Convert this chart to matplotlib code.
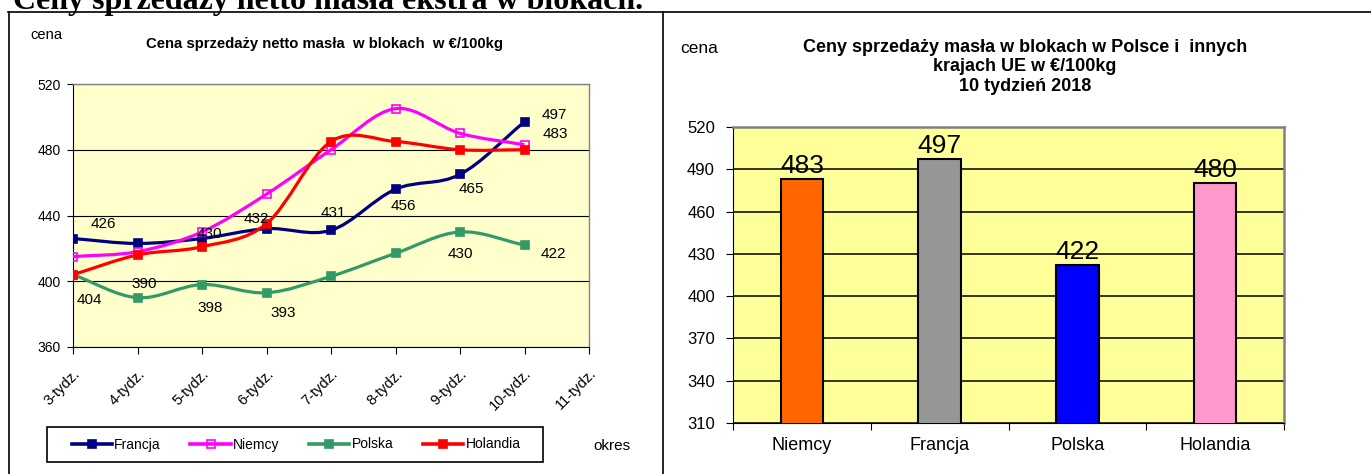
"""Two butter price charts: weekly lines (left) and week-10 bars (right)."""
import matplotlib
matplotlib.use("Agg")
import matplotlib.pyplot as plt
from matplotlib.lines import Line2D
from matplotlib.patches import PathPatch, Rectangle
from matplotlib.path import Path

# ---- data -------------------------------------------------------------
weeks = ["3-tydz.", "4-tydz.", "5-tydz.", "6-tydz.", "7-tydz.",
         "8-tydz.", "9-tydz.", "10-tydz.", "11-tydz."]
francja = [426, 423, 426, 432, 431, 456, 465, 497]
niemcy = [415, 418, 430, 453, 480, 505, 490, 483]
polska = [404, 390, 398, 393, 403, 417, 430, 422]
holandia = [404, 416, 421, 435, 485, 485, 480, 480]

countries = ["Niemcy", "Francja", "Polska", "Holandia"]
week10_prices = [483, 497, 422, 480]

plt.rcParams["font.family"] = ["Liberation Sans", "DejaVu Sans"]

W, H = 1371, 474


def fx(px):
    return px / W


def fy(py):
    return 1 - py / H


def smooth_path(xs, ys):
    """Bezier path through the points, like Excel's smoothed line."""
    n = len(xs)
    tang = []
    for i in range(n):
        a = max(i - 1, 0)
        b = min(i + 1, n - 1)
        k = 0.5 if 0 < i < n - 1 else 1.0
        tang.append(((xs[b] - xs[a]) * k, (ys[b] - ys[a]) * k))
    verts = [(xs[0], ys[0])]
    codes = [Path.MOVETO]
    for i in range(n - 1):
        verts += [(xs[i] + tang[i][0] / 3, ys[i] + tang[i][1] / 3),
                  (xs[i + 1] - tang[i + 1][0] / 3, ys[i + 1] - tang[i + 1][1] / 3),
                  (xs[i + 1], ys[i + 1])]
        codes += [Path.CURVE4] * 3
    return Path(verts, codes)


fig = plt.figure(figsize=(W / 100, H / 100), dpi=100)

# page heading, cut at the top like in the scanned page
fig.text(fx(13), fy(8.5), "Ceny sprzedaży netto masła ekstra w blokach.",
         family=["Liberation Serif", "DejaVu Serif"], weight="bold",
         fontsize=23, ha="left", va="baseline")

# table borders
for x0, y0, x1, y1 in [(8, 12, W, 12), (9, 12, 9, H), (662.5, 12, 662.5, H)]:
    fig.add_artist(Line2D([fx(x0), fx(x1)], [fy(y0), fy(y1)],
                          transform=fig.transFigure, color="black", lw=1.2))

# ---- left: weekly lines ------------------------------------------------
ax = fig.add_axes([fx(73), fy(347), fx(589 - 73), (347 - 84) / H])
ax.set_facecolor("#FFFFCC")
ax.set_xlim(0, len(weeks) - 1)
ax.set_ylim(360, 520)
ax.set_yticks(range(360, 521, 40))
ax.set_xticks(range(len(weeks)))
ax.set_xticklabels(weeks, rotation=45, ha="right", va="top",
                   rotation_mode="anchor", fontsize=10.5)
ax.tick_params(axis="y", labelsize=10, length=4, pad=5)
ax.tick_params(axis="x", length=5, pad=9)
ax.grid(axis="y", color="black", lw=0.8)
ax.set_axisbelow(True)
for side in ("top", "right"):
    ax.spines[side].set_color("#808080")
    ax.spines[side].set_linewidth(1.0)

series = [
    ("Francja", francja, "#000080", "#000080"),
    ("Niemcy", niemcy, "#FF00FF", "none"),
    ("Polska", polska, "#339966", "#339966"),
    ("Holandia", holandia, "#FF0000", "#FF0000"),
]
handles = []
xs = list(range(len(francja)))
for name, vals, color, face in series:
    ax.add_patch(PathPatch(smooth_path(xs, vals), facecolor="none",
                           edgecolor=color, lw=2.3, zorder=3))
    ax.plot(xs, vals, linestyle="none", marker="s", ms=5.5, color=color,
            mfc=face, mew=1.2, zorder=4)
    handles.append(Line2D([], [], color=color, lw=2.6, marker="s", ms=5.5,
                          mfc=face, mew=1.2, label=name))

# value labels: (series, week index, offset in px right/up)
label_spots = [
    (francja, 0, 30, 15), (francja, 3, -10, 10), (francja, 4, 2, 17),
    (francja, 5, 8, -17), (francja, 6, 11, -15), (francja, 7, 30, 7),
    (niemcy, 2, 7, -2), (niemcy, 7, 31, 11),
    (polska, 0, 16, -25), (polska, 1, 7, 14), (polska, 2, 8, -23),
    (polska, 3, 17, -20), (polska, 6, 0, -22), (polska, 7, 29, -9),
]
for vals, i, dx, dy in label_spots:
    ax.annotate(f"{vals[i]}", (i, vals[i]), xytext=(dx * 0.72, dy * 0.72),
                textcoords="offset points", ha="center", va="center",
                fontsize=11, zorder=5)

fig.text(fx(325), fy(48), "Cena sprzedaży netto masła  w blokach  w €/100kg",
         weight="bold", fontsize=10.7, ha="center", va="baseline")
fig.text(fx(46), fy(39), "cena", fontsize=10.6, ha="center", va="baseline")
fig.text(fx(612), fy(450.5), "okres", fontsize=11, ha="center", va="baseline")

# legend box with the entries centred in it
fig.add_artist(Rectangle((fx(47), fy(462)), fx(543 - 47), 35 / H,
                         transform=fig.transFigure, facecolor="white",
                         edgecolor="black", lw=1.2))
fig.legend(handles=handles, loc="center", ncol=4,
           bbox_to_anchor=(fx(296), fy(444.5)), frameon=False,
           fontsize=10, handlelength=2.9, handletextpad=0.15,
           columnspacing=2.15, borderpad=0, borderaxespad=0)

# ---- right: week 10 bars ----------------------------------------------
bx = fig.add_axes([fx(733), fy(423), fx(1284 - 733), (423 - 127) / H])
bx.set_facecolor("#FFFF99")
bar_colors = ["#FF6600", "#969696", "#0000FF", "#FF99CC"]
pos = list(range(len(countries)))
bars = bx.bar(pos, week10_prices, width=0.31, bottom=0, color=bar_colors,
              edgecolor="black", lw=1.5, zorder=3)
bx.set_xlim(-0.5, len(countries) - 0.5)
bx.set_ylim(310, 520)
bx.set_yticks(range(310, 521, 30))
bx.tick_params(axis="y", labelsize=12, length=5, pad=8)
bx.set_xticks([p - 0.5 for p in range(len(countries) + 1)])
bx.set_xticklabels([])
bx.tick_params(axis="x", length=5)
bx.set_xticks(pos, minor=True)
bx.set_xticklabels(countries, minor=True, fontsize=13)
bx.tick_params(axis="x", which="minor", length=0, pad=10)
bx.grid(axis="y", color="black", lw=1.1)
bx.set_axisbelow(True)
for side in ("top", "right"):
    bx.spines[side].set_color("#808080")
    bx.spines[side].set_linewidth(1.8)
bx.bar_label(bars, fontsize=19, padding=1)

fig.text(fx(1025), fy(67),
         "Ceny sprzedaży masła w blokach w Polsce i  innych\nkrajach UE w €/100kg\n10 tydzień 2018",
         weight="bold", fontsize=13, ha="center", va="center", linespacing=1.2)
fig.text(fx(699), fy(53), "cena", fontsize=12.5, ha="center", va="baseline")

fig.savefig("out.png", dpi=100)
